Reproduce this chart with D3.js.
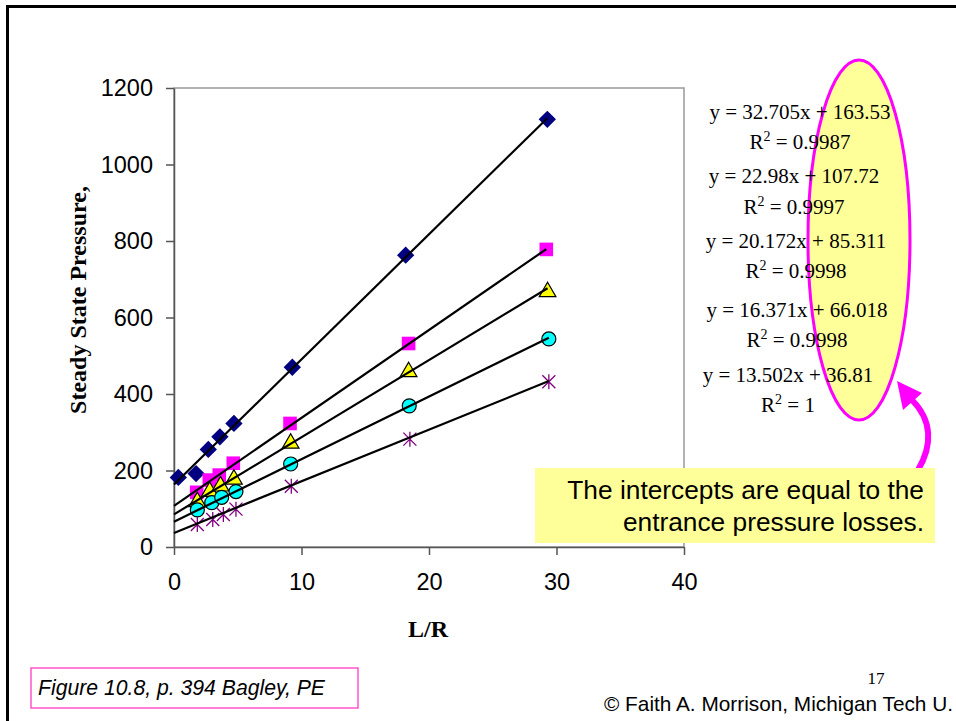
<!DOCTYPE html>
<meta charset="utf-8">

<!-- Load d3.js -->
<script src="https://d3js.org/d3.v7.min.js"></script>

<style>
  body { margin: 0; background: #fff; }
</style>

<!-- Create a div where the graph will take place -->
<div id="my_dataviz"></div>

<script>
// ---- data ----
// L/R values for each data set
var lrDiamond  = [0.34, 1.73, 2.69, 3.6, 4.7, 9.28, 18.17, 29.28];
var lrSquare   = [1.78, 2.77, 3.55, 4.65, 9.1, 18.4, 29.2];
var lrTriangle = [1.83, 2.8, 3.65, 4.7, 9.15, 18.4, 29.3];
var lrCircle   = [1.83, 2.96, 3.74, 4.86, 9.15, 18.45, 29.4];
var lrStar     = [1.83, 3.04, 3.87, 4.86, 9.2, 18.5, 29.4];

// steady state pressure for each data set
var pDiamond  = [182, 192, 255, 288, 323, 470, 763, 1118];
var pSquare   = [143, 175, 188, 219, 323, 532, 778];
var pTriangle = [118, 145, 159, 177, 271, 458, 667];
var pCircle   = [97, 116, 130, 145, 217, 369, 544];
var pStar     = [59, 72, 85, 99, 159, 282, 432];

// linear fits (same order as the series above)
var slopes     = [32.705, 22.98, 20.172, 16.371, 13.502];
var intercepts = [163.53, 107.72, 85.311, 66.018, 36.81];
var slopeText  = ["32.705", "22.98", "20.172", "16.371", "13.502"];
var interText  = ["163.53", "107.72", "85.311", "66.018", "36.81"];
var r2Text     = ["0.9987", "0.9997", "0.9998", "0.9998", "1"];

var xTicks = [0, 10, 20, 30, 40];
var yTicks = [0, 200, 400, 600, 800, 1000, 1200];

var series = [
  {x: lrDiamond,  y: pDiamond,  marker: "diamond"},
  {x: lrSquare,   y: pSquare,   marker: "square"},
  {x: lrTriangle, y: pTriangle, marker: "triangle"},
  {x: lrCircle,   y: pCircle,   marker: "circle"},
  {x: lrStar,     y: pStar,     marker: "star"}
];

var W = 956, H = 721;
var svg = d3.select("#my_dataviz")
  .append("svg")
    .attr("width", W)
    .attr("height", H);

// slide frame
svg.append("rect")
  .attr("x", 7.5).attr("y", 6.5)
  .attr("width", W + 20).attr("height", H + 20)
  .attr("fill", "none")
  .attr("stroke", "#000")
  .attr("stroke-width", 3);

// scales
var x = d3.scaleLinear().domain([0, 40]).range([174, 684]);
var y = d3.scaleLinear().domain([0, 1200]).range([547, 88]);

// plot area border (top / right)
svg.append("rect")
  .attr("x", x(0)).attr("y", y(1200))
  .attr("width", x(40) - x(0)).attr("height", y(0) - y(1200))
  .attr("fill", "none")
  .attr("stroke", "#999")
  .attr("stroke-width", 1.5);

// Y axis
var yAxis = svg.append("g")
  .attr("transform", "translate(" + x(0) + ",0)")
  .call(d3.axisLeft(y).tickValues(yTicks).tickFormat(d3.format("d"))
    .tickSize(8).tickSizeOuter(0).tickPadding(13));
// X axis
var xAxis = svg.append("g")
  .attr("transform", "translate(0," + y(0) + ")")
  .call(d3.axisBottom(x).tickValues(xTicks).tickFormat(d3.format("d"))
    .tickSize(8).tickSizeOuter(0).tickPadding(18));

[yAxis, xAxis].forEach(function(g) {
  g.select(".domain").attr("stroke", "#555").attr("stroke-width", 1.5);
  g.selectAll(".tick line").attr("stroke", "#555").attr("stroke-width", 1.5);
  g.selectAll(".tick text")
    .attr("fill", "#000")
    .style("font-family", "Liberation Sans, Arial, sans-serif")
    .style("font-size", "23.5px");
});

// axis titles
svg.append("text")
  .attr("transform", "translate(86,300) rotate(-90)")
  .attr("text-anchor", "middle")
  .style("font-family", "Liberation Serif, Times New Roman, serif")
  .style("font-weight", "bold")
  .style("font-size", "24px")
  .text("Steady State Pressure,");

svg.append("text")
  .attr("x", 428).attr("y", 637)
  .attr("text-anchor", "middle")
  .style("font-family", "Liberation Serif, Times New Roman, serif")
  .style("font-weight", "bold")
  .style("font-size", "24px")
  .text("L/R");

// markers
function drawMarker(g, kind) {
  if (kind === "diamond") {
    g.append("path").attr("d", d3.symbol().type(d3.symbolSquare).size(150)())
      .attr("transform", "rotate(45)")
      .attr("fill", "#000080");
  } else if (kind === "square") {
    g.append("path").attr("d", d3.symbol().type(d3.symbolSquare).size(185)())
      .attr("fill", "#FF00FF");
  } else if (kind === "triangle") {
    g.append("path").attr("d", d3.symbol().type(d3.symbolTriangle).size(120)())
      .attr("fill", "#FFFF00").attr("stroke", "#000").attr("stroke-width", 1.2);
  } else if (kind === "circle") {
    g.append("circle").attr("r", 7)
      .attr("fill", "#00FFFF").attr("stroke", "#000").attr("stroke-width", 1.2);
  } else {
    g.append("path").attr("d", "M0,-7.5V7.5M-6.5,-6.5L6.5,6.5M-6.5,6.5L6.5,-6.5")
      .attr("fill", "none").attr("stroke", "#800080").attr("stroke-width", 1.3);
  }
}

series.forEach(function(s) {
  var pts = s.x.map(function(v, i) { return [v, s.y[i]]; });
  svg.append("g").selectAll("g")
    .data(pts)
    .enter().append("g")
      .attr("transform", function(d) { return "translate(" + x(d[0]) + "," + y(d[1]) + ")"; })
      .each(function() { drawMarker(d3.select(this), s.marker); });
});

// trend lines from L/R = 0 to the last point
var line = d3.line().x(function(d) { return x(d[0]); }).y(function(d) { return y(d[1]); });
series.forEach(function(s, i) {
  var xmax = d3.max(s.x);
  svg.append("path")
    .attr("d", line([[0, intercepts[i]], [xmax, intercepts[i] + slopes[i] * xmax]]))
    .attr("stroke", "#000")
    .attr("stroke-width", 2.2)
    .attr("fill", "none");
});

// highlight ellipse behind the equations
svg.append("ellipse")
  .attr("cx", 859).attr("cy", 240)
  .attr("rx", 51).attr("ry", 180)
  .attr("fill", "#FFFF99")
  .attr("stroke", "#FF00FF")
  .attr("stroke-width", 3);

// equations
var eqX   = [800, 794, 796, 797, 788];
var eqY   = [119, 183, 248, 317, 382];
var r2Y   = [149, 214, 278, 347, 412];
var eqFont = "Liberation Serif, Times New Roman, serif";
slopes.forEach(function(s, i) {
  svg.append("text")
    .attr("x", eqX[i]).attr("y", eqY[i])
    .attr("text-anchor", "middle")
    .style("font-family", eqFont)
    .style("font-size", "21px")
    .text("y = " + slopeText[i] + "x + " + interText[i]);
  var t = svg.append("text")
    .attr("x", eqX[i]).attr("y", r2Y[i])
    .attr("text-anchor", "middle")
    .style("font-family", eqFont)
    .style("font-size", "21px");
  t.append("tspan").text("R");
  t.append("tspan").attr("dy", -8).style("font-size", "14px").text("2");
  t.append("tspan").attr("dy", 8).text(" = " + r2Text[i]);
});

// curved arrow pointing at the intercepts
svg.append("path")
  .attr("d", "M918,470 C933,445 932,420 912,400")
  .attr("fill", "none")
  .attr("stroke", "#FF00FF")
  .attr("stroke-width", 6);
svg.append("path")
  .attr("d", "M897,381 L922,393 L903,410 Z")
  .attr("fill", "#FF00FF");

// callout box
svg.append("rect")
  .attr("x", 535).attr("y", 468)
  .attr("width", 400).attr("height", 75)
  .attr("fill", "#FFFF99");
var callFont = "Liberation Sans, Arial, sans-serif";
svg.append("text")
  .attr("x", 924).attr("y", 499)
  .attr("text-anchor", "end")
  .style("font-family", callFont).style("font-size", "26.3px")
  .text("The intercepts are equal to the");
svg.append("text")
  .attr("x", 924).attr("y", 531)
  .attr("text-anchor", "end")
  .style("font-family", callFont).style("font-size", "26.3px")
  .text("entrance pressure losses.");

// source caption
svg.append("rect")
  .attr("x", 31).attr("y", 668)
  .attr("width", 327).attr("height", 40)
  .attr("fill", "none")
  .attr("stroke", "#FF55CC")
  .attr("stroke-width", 1.5);
svg.append("text")
  .attr("x", 38).attr("y", 695)
  .style("font-family", callFont).style("font-style", "italic").style("font-size", "21.2px")
  .text("Figure 10.8, p. 394 Bagley, PE");

// page number and credit
svg.append("text")
  .attr("x", 876).attr("y", 684)
  .attr("text-anchor", "middle")
  .style("font-family", eqFont).style("font-size", "17px")
  .text("17");
svg.append("text")
  .attr("x", 953).attr("y", 711)
  .attr("text-anchor", "end")
  .style("font-family", callFont).style("font-size", "20.8px")
  .text("© Faith A. Morrison, Michigan Tech U.");
</script>
